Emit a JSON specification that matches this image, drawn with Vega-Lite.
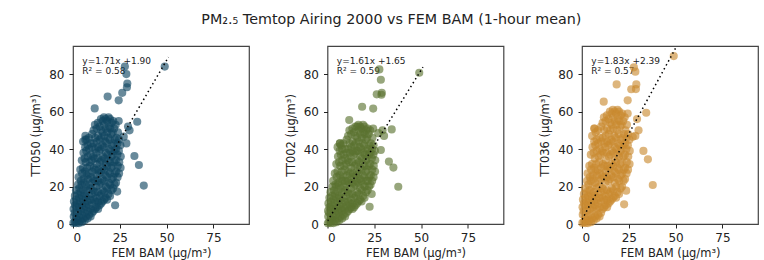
{
  "$schema": "https://vega.github.io/schema/vega-lite/v6.json",
  "background": "white",
  "padding": {"left": 30, "top": 12, "right": 5, "bottom": 0},
  "title": {"text": "PM₂.₅ Temtop Airing 2000 vs FEM BAM (1-hour mean)", "anchor": "middle", "dx": -3, "font": "DejaVu Sans", "fontSize": 14.3, "fontWeight": "normal", "color": "#222", "offset": 18.5},
  "config": {
    "view": {"stroke": "#444", "strokeWidth": 1.2},
    "axis": {"grid": false, "domain": false, "tickColor": "#222", "tickSize": 4, "labelFont": "DejaVu Sans", "labelFontSize": 12, "labelColor": "#222", "titleFont": "DejaVu Sans", "titleFontSize": 11.5, "titleFontWeight": "normal", "titleColor": "#222", "labelPadding": 4},
    "axisY": {"labelPadding": 5, "titlePadding": 7},
    "concat": {"spacing": 34.5}
  },
  "datasets": {
    "pts": [
      {"x":0.2,"a":0.5,"b":0.4,"c":0.6},{"x":0.4,"a":4,"b":4,"c":5},{"x":0.3,"a":8,"b":7,"c":9},{"x":0.5,"a":12,"b":11,"c":13},
      {"x":1.0,"a":1,"b":1,"c":1},{"x":0.9,"a":6,"b":6,"c":7},{"x":1.1,"a":10,"b":9,"c":11},{"x":1.0,"a":15,"b":14,"c":16},
      {"x":1.8,"a":0.5,"b":0.5,"c":0.5},{"x":1.7,"a":3,"b":3,"c":3},{"x":1.9,"a":9,"b":8,"c":10},{"x":1.8,"a":13,"b":12,"c":14},{"x":1.6,"a":18,"b":17,"c":19},
      {"x":2.5,"a":2,"b":2,"c":2},{"x":2.6,"a":6,"b":5,"c":7},{"x":2.4,"a":11,"b":10,"c":12},{"x":2.5,"a":16,"b":15,"c":17},{"x":2.7,"a":21,"b":20,"c":23},
      {"x":3.2,"a":0.5,"b":0.5,"c":0.5},{"x":3.1,"a":4,"b":4,"c":4},{"x":3.3,"a":9,"b":8,"c":10},{"x":3.2,"a":14,"b":13,"c":15},{"x":3.4,"a":19,"b":18,"c":21},{"x":3.0,"a":25,"b":23,"c":27},
      {"x":4.0,"a":2,"b":2,"c":2},{"x":4.1,"a":7,"b":7,"c":8},{"x":3.9,"a":12,"b":11,"c":13},{"x":4.0,"a":17,"b":16,"c":18},{"x":4.2,"a":23,"b":21,"c":25},{"x":3.9,"a":29,"b":27,"c":31},
      {"x":4.8,"a":1,"b":1,"c":1},{"x":4.7,"a":5,"b":5,"c":5},{"x":4.9,"a":10,"b":9,"c":11},{"x":4.8,"a":15,"b":14,"c":16},{"x":4.6,"a":21,"b":20,"c":23},{"x":4.9,"a":27,"b":25,"c":29},{"x":4.7,"a":34,"b":32,"c":37},
      {"x":5.5,"a":3,"b":3,"c":3},{"x":5.6,"a":8,"b":7,"c":9},{"x":5.4,"a":13,"b":12,"c":14},{"x":5.5,"a":18,"b":17,"c":20},{"x":5.7,"a":24,"b":22,"c":26},{"x":5.3,"a":30,"b":28,"c":32},{"x":5.6,"a":38,"b":36,"c":41},{"x":5.4,"a":44,"b":41,"c":47},
      {"x":6.3,"a":2,"b":2,"c":2},{"x":6.2,"a":6,"b":6,"c":7},{"x":6.4,"a":11,"b":10,"c":12},{"x":6.3,"a":16,"b":15,"c":17},{"x":6.1,"a":22,"b":21,"c":24},{"x":6.4,"a":28,"b":26,"c":30},{"x":6.2,"a":35,"b":33,"c":38},{"x":6.5,"a":41,"b":39,"c":44},{"x":6.6,"a":47,"b":43,"c":51},
      {"x":7.0,"a":4,"b":4,"c":4},{"x":7.1,"a":9,"b":8,"c":10},{"x":6.9,"a":14,"b":13,"c":15},{"x":7.0,"a":20,"b":19,"c":22},{"x":7.2,"a":26,"b":24,"c":28},{"x":6.8,"a":33,"b":31,"c":35},{"x":7.1,"a":39,"b":37,"c":42},{"x":7.3,"a":45,"b":42,"c":49},
      {"x":7.8,"a":3,"b":3,"c":3},{"x":7.9,"a":7,"b":7,"c":8},{"x":7.7,"a":12,"b":11,"c":13},{"x":7.8,"a":18,"b":17,"c":19},{"x":8.0,"a":24,"b":23,"c":26},{"x":7.6,"a":30,"b":28,"c":32},{"x":7.9,"a":36,"b":34,"c":39},{"x":7.8,"a":42,"b":40,"c":45},
      {"x":8.6,"a":5,"b":5,"c":5},{"x":8.5,"a":10,"b":9,"c":11},{"x":8.7,"a":15,"b":14,"c":16},{"x":8.6,"a":21,"b":20,"c":23},{"x":8.4,"a":27,"b":25,"c":29},{"x":8.8,"a":33,"b":31,"c":36},{"x":8.6,"a":40,"b":37,"c":43},{"x":8.5,"a":46,"b":43,"c":50},
      {"x":9.4,"a":4,"b":4,"c":4},{"x":9.5,"a":8,"b":8,"c":9},{"x":9.3,"a":13,"b":12,"c":14},{"x":9.4,"a":19,"b":18,"c":20},{"x":9.6,"a":25,"b":23,"c":27},{"x":9.2,"a":31,"b":29,"c":33},{"x":9.5,"a":37,"b":35,"c":40},{"x":9.4,"a":43,"b":40,"c":46},
      {"x":10.2,"a":6,"b":6,"c":6},{"x":10.3,"a":11,"b":10,"c":12},{"x":10.1,"a":16,"b":15,"c":17},{"x":10.2,"a":22,"b":21,"c":24},{"x":10.4,"a":28,"b":26,"c":30},{"x":10.0,"a":34,"b":32,"c":37},{"x":10.3,"a":41,"b":38,"c":44},{"x":10.2,"a":48,"b":45,"c":52},
      {"x":11.0,"a":7,"b":7,"c":8},{"x":11.1,"a":13,"b":12,"c":14},{"x":10.9,"a":18,"b":17,"c":19},{"x":11.0,"a":24,"b":23,"c":26},{"x":11.2,"a":30,"b":28,"c":32},{"x":10.8,"a":36,"b":34,"c":39},{"x":11.1,"a":43,"b":40,"c":46},{"x":11.0,"a":50,"b":47,"c":54},
      {"x":11.8,"a":8,"b":8,"c":9},{"x":11.9,"a":12,"b":11,"c":13},{"x":11.7,"a":17,"b":16,"c":18},{"x":11.8,"a":23,"b":22,"c":25},{"x":12.0,"a":29,"b":27,"c":31},{"x":11.6,"a":35,"b":33,"c":38},{"x":11.9,"a":40,"b":38,"c":43},{"x":11.8,"a":46,"b":43,"c":50},{"x":11.7,"a":53,"b":50,"c":57},
      {"x":12.6,"a":9,"b":9,"c":10},{"x":12.7,"a":14,"b":13,"c":15},{"x":12.5,"a":20,"b":19,"c":22},{"x":12.6,"a":26,"b":24,"c":28},{"x":12.8,"a":32,"b":30,"c":34},{"x":12.4,"a":38,"b":36,"c":41},{"x":12.7,"a":44,"b":41,"c":47},{"x":12.6,"a":51,"b":48,"c":55},
      {"x":13.4,"a":8,"b":8,"c":9},{"x":13.5,"a":12,"b":11,"c":13},{"x":13.3,"a":17,"b":16,"c":18},{"x":13.4,"a":23,"b":22,"c":25},{"x":13.6,"a":29,"b":27,"c":31},{"x":13.2,"a":35,"b":33,"c":38},{"x":13.5,"a":41,"b":39,"c":44},{"x":13.4,"a":47,"b":44,"c":51},{"x":13.3,"a":54,"b":51,"c":58},
      {"x":14.2,"a":10,"b":9,"c":11},{"x":14.3,"a":15,"b":14,"c":16},{"x":14.1,"a":21,"b":20,"c":23},{"x":14.2,"a":27,"b":25,"c":29},{"x":14.4,"a":33,"b":31,"c":36},{"x":14.0,"a":39,"b":37,"c":42},{"x":14.3,"a":45,"b":42,"c":48},{"x":14.2,"a":52,"b":49,"c":56},
      {"x":15.0,"a":11,"b":10,"c":12},{"x":15.1,"a":16,"b":15,"c":17},{"x":14.9,"a":22,"b":21,"c":24},{"x":15.0,"a":28,"b":26,"c":30},{"x":15.2,"a":34,"b":32,"c":37},{"x":14.8,"a":40,"b":38,"c":43},{"x":15.1,"a":46,"b":43,"c":50},{"x":15.0,"a":50,"b":47,"c":54},{"x":14.9,"a":56,"b":52,"c":60},
      {"x":15.8,"a":12,"b":11,"c":13},{"x":15.9,"a":18,"b":17,"c":19},{"x":15.7,"a":24,"b":23,"c":26},{"x":15.8,"a":30,"b":28,"c":32},{"x":16.0,"a":36,"b":34,"c":39},{"x":15.6,"a":42,"b":39,"c":45},{"x":15.9,"a":49,"b":46,"c":53},{"x":15.8,"a":55,"b":52,"c":59},
      {"x":16.6,"a":13,"b":12,"c":14},{"x":16.7,"a":17,"b":16,"c":18},{"x":16.5,"a":23,"b":22,"c":25},{"x":16.6,"a":29,"b":27,"c":31},{"x":16.8,"a":35,"b":33,"c":38},{"x":16.4,"a":41,"b":39,"c":44},{"x":16.7,"a":47,"b":44,"c":51},{"x":16.6,"a":53,"b":50,"c":57},{"x":16.5,"a":57,"b":53,"c":61},
      {"x":17.4,"a":14,"b":13,"c":15},{"x":17.5,"a":20,"b":19,"c":22},{"x":17.3,"a":26,"b":24,"c":28},{"x":17.4,"a":32,"b":30,"c":34},{"x":17.6,"a":38,"b":36,"c":41},{"x":17.2,"a":44,"b":41,"c":47},{"x":17.5,"a":51,"b":48,"c":55},{"x":17.4,"a":56,"b":52,"c":60},
      {"x":18.2,"a":13,"b":12,"c":14},{"x":18.3,"a":19,"b":18,"c":20},{"x":18.1,"a":25,"b":23,"c":27},{"x":18.2,"a":31,"b":29,"c":33},{"x":18.4,"a":37,"b":35,"c":40},{"x":18.0,"a":43,"b":40,"c":46},{"x":18.3,"a":49,"b":46,"c":53},{"x":18.2,"a":55,"b":51,"c":59},
      {"x":19.0,"a":16,"b":15,"c":17},{"x":19.1,"a":22,"b":21,"c":24},{"x":18.9,"a":28,"b":26,"c":30},{"x":19.0,"a":34,"b":32,"c":37},{"x":19.2,"a":40,"b":38,"c":43},{"x":18.8,"a":46,"b":43,"c":50},{"x":19.1,"a":52,"b":49,"c":56},{"x":19.0,"a":57,"b":53,"c":61},
      {"x":19.8,"a":15,"b":14,"c":16},{"x":19.9,"a":21,"b":20,"c":23},{"x":19.7,"a":27,"b":25,"c":29},{"x":19.8,"a":33,"b":31,"c":36},{"x":20.0,"a":39,"b":37,"c":42},{"x":19.6,"a":45,"b":42,"c":48},{"x":19.9,"a":51,"b":48,"c":55},{"x":19.8,"a":56,"b":52,"c":60},
      {"x":20.6,"a":18,"b":17,"c":19},{"x":20.7,"a":24,"b":23,"c":26},{"x":20.5,"a":30,"b":28,"c":32},{"x":20.6,"a":36,"b":34,"c":39},{"x":20.8,"a":42,"b":39,"c":45},{"x":20.4,"a":48,"b":45,"c":52},{"x":20.7,"a":54,"b":50,"c":58},
      {"x":21.4,"a":19,"b":18,"c":20},{"x":21.5,"a":25,"b":23,"c":27},{"x":21.3,"a":31,"b":29,"c":33},{"x":21.4,"a":37,"b":35,"c":40},{"x":21.6,"a":43,"b":40,"c":46},{"x":21.2,"a":49,"b":46,"c":53},{"x":21.5,"a":55,"b":51,"c":59},
      {"x":22.2,"a":21,"b":20,"c":23},{"x":22.3,"a":27,"b":25,"c":29},{"x":22.1,"a":33,"b":31,"c":36},{"x":22.2,"a":39,"b":37,"c":42},{"x":22.4,"a":45,"b":42,"c":48},{"x":22.0,"a":51,"b":48,"c":55},
      {"x":23.0,"a":22,"b":21,"c":24},{"x":23.1,"a":28,"b":26,"c":30},{"x":22.9,"a":34,"b":32,"c":37},{"x":23.0,"a":40,"b":38,"c":43},{"x":23.2,"a":46,"b":43,"c":50},{"x":22.8,"a":53,"b":50,"c":57},
      {"x":23.8,"a":25,"b":23,"c":27},{"x":23.9,"a":31,"b":29,"c":33},{"x":23.7,"a":37,"b":35,"c":40},{"x":23.8,"a":43,"b":40,"c":46},{"x":24.0,"a":49,"b":46,"c":53},
      {"x":24.6,"a":27,"b":25,"c":29},{"x":24.7,"a":33,"b":31,"c":36},{"x":24.5,"a":39,"b":37,"c":42},{"x":24.6,"a":45,"b":42,"c":48},{"x":24.4,"a":55,"b":51,"c":59},
      {"x":25.4,"a":30,"b":28,"c":32},{"x":25.5,"a":36,"b":34,"c":39},{"x":25.3,"a":42,"b":39,"c":45},
      {"x":49,"a":84,"b":80.7,"c":89.6},{"x":27.7,"a":84,"b":82.5,"c":83.6},{"x":28.5,"a":80,"b":77,"c":81.3},{"x":29,"a":75,"b":70,"c":74.5},{"x":28.8,"a":73,"b":69,"c":72},
      {"x":26.3,"a":70,"b":69.2,"c":71.9},{"x":24.4,"a":66,"b":61.6,"c":66},{"x":18.5,"a":68,"b":62.6,"c":74.5},{"x":34.3,"a":54.6,"b":50.5,"c":59.4},{"x":32.8,"a":36.3,"b":33.3,"c":39},
      {"x":35.2,"a":31.5,"b":30.1,"c":34.5},{"x":37.8,"a":20.5,"b":19.9,"c":20.8},{"x":23.6,"a":17.3,"b":16,"c":17.8},{"x":22.5,"a":10,"b":9.2,"c":10.5},{"x":11.6,"a":61.7,"b":55.5,"c":65.3},
      {"x":6.6,"a":45,"b":43,"c":51},{"x":29.4,"a":52,"b":50,"c":56},{"x":27.1,"a":46.6,"b":48.5,"c":46.5},{"x":28.5,"a":43,"b":39.5,"c":47},{"x":30.2,"a":50,"b":47,"c":50}
    ],
    "fit1": [{"x":0,"y":1.90},{"x":51,"y":89.11}],
    "fit2": [{"x":0,"y":1.65},{"x":51,"y":83.76}],
    "fit3": [{"x":0,"y":2.39},{"x":51,"y":95.72}],
    "ann1": [{"eq":"y=1.71x +1.90","r2":"R² = 0.58"}],
    "ann2": [{"eq":"y=1.61x +1.65","r2":"R² = 0.59"}],
    "ann3": [{"eq":"y=1.83x +2.39","r2":"R² = 0.57"}]
  },
  "hconcat": [
    {
      "width": 176, "height": 178,
      "layer": [
        {"data": {"name": "ann1"}, "mark": {"type": "text", "align": "left", "baseline": "middle", "font": "DejaVu Sans", "fontSize": 9, "color": "#222"},
         "encoding": {"x": {"datum": 5}, "y": {"datum": 87}, "text": {"field": "eq"}}},
        {"data": {"name": "ann1"}, "mark": {"type": "text", "align": "left", "baseline": "middle", "font": "DejaVu Sans", "fontSize": 9, "color": "#222"},
         "encoding": {"x": {"datum": 5}, "y": {"datum": 81.5}, "text": {"field": "r2"}}},
        {"data": {"name": "pts"}, "mark": {"type": "circle", "size": 66, "opacity": 0.63, "color": "#104560"},
         "encoding": {
           "x": {"field": "x", "type": "quantitative", "scale": {"domain": [0, 94], "nice": false, "zero": false}, "axis": {"values": [0, 25, 50, 75], "title": "FEM BAM (µg/m³)"}},
           "y": {"field": "a", "type": "quantitative", "scale": {"domain": [0, 95], "nice": false, "zero": false}, "axis": {"values": [0, 20, 40, 60, 80], "title": "TT050 (µg/m³)"}}}},
        {"data": {"name": "fit1"}, "mark": {"type": "line", "color": "black", "strokeDash": [1.5, 3], "strokeWidth": 1.5, "clip": true},
         "encoding": {"x": {"field": "x", "type": "quantitative"}, "y": {"field": "y", "type": "quantitative"}}}
      ]
    },
    {
      "width": 176, "height": 178,
      "layer": [
        {"data": {"name": "ann2"}, "mark": {"type": "text", "align": "left", "baseline": "middle", "font": "DejaVu Sans", "fontSize": 9, "color": "#222"},
         "encoding": {"x": {"datum": 5}, "y": {"datum": 87}, "text": {"field": "eq"}}},
        {"data": {"name": "ann2"}, "mark": {"type": "text", "align": "left", "baseline": "middle", "font": "DejaVu Sans", "fontSize": 9, "color": "#222"},
         "encoding": {"x": {"datum": 5}, "y": {"datum": 81.5}, "text": {"field": "r2"}}},
        {"data": {"name": "pts"}, "mark": {"type": "circle", "size": 66, "opacity": 0.63, "color": "#5a7230"},
         "encoding": {
           "x": {"field": "x", "type": "quantitative", "scale": {"domain": [0, 94], "nice": false, "zero": false}, "axis": {"values": [0, 25, 50, 75], "title": "FEM BAM (µg/m³)"}},
           "y": {"field": "b", "type": "quantitative", "scale": {"domain": [0, 95], "nice": false, "zero": false}, "axis": {"values": [0, 20, 40, 60, 80], "title": "TT002 (µg/m³)"}}}},
        {"data": {"name": "fit2"}, "mark": {"type": "line", "color": "black", "strokeDash": [1.5, 3], "strokeWidth": 1.5, "clip": true},
         "encoding": {"x": {"field": "x", "type": "quantitative"}, "y": {"field": "y", "type": "quantitative"}}}
      ]
    },
    {
      "width": 176, "height": 178,
      "layer": [
        {"data": {"name": "ann3"}, "mark": {"type": "text", "align": "left", "baseline": "middle", "font": "DejaVu Sans", "fontSize": 9, "color": "#222"},
         "encoding": {"x": {"datum": 5}, "y": {"datum": 87}, "text": {"field": "eq"}}},
        {"data": {"name": "ann3"}, "mark": {"type": "text", "align": "left", "baseline": "middle", "font": "DejaVu Sans", "fontSize": 9, "color": "#222"},
         "encoding": {"x": {"datum": 5}, "y": {"datum": 81.5}, "text": {"field": "r2"}}},
        {"data": {"name": "pts"}, "mark": {"type": "circle", "size": 66, "opacity": 0.63, "color": "#c98a30"},
         "encoding": {
           "x": {"field": "x", "type": "quantitative", "scale": {"domain": [0, 94], "nice": false, "zero": false}, "axis": {"values": [0, 25, 50, 75], "title": "FEM BAM (µg/m³)"}},
           "y": {"field": "c", "type": "quantitative", "scale": {"domain": [0, 95], "nice": false, "zero": false}, "axis": {"values": [0, 20, 40, 60, 80], "title": "TT036 (µg/m³)"}}}},
        {"data": {"name": "fit3"}, "mark": {"type": "line", "color": "black", "strokeDash": [1.5, 3], "strokeWidth": 1.5, "clip": true},
         "encoding": {"x": {"field": "x", "type": "quantitative"}, "y": {"field": "y", "type": "quantitative"}}}
      ]
    }
  ]
}
